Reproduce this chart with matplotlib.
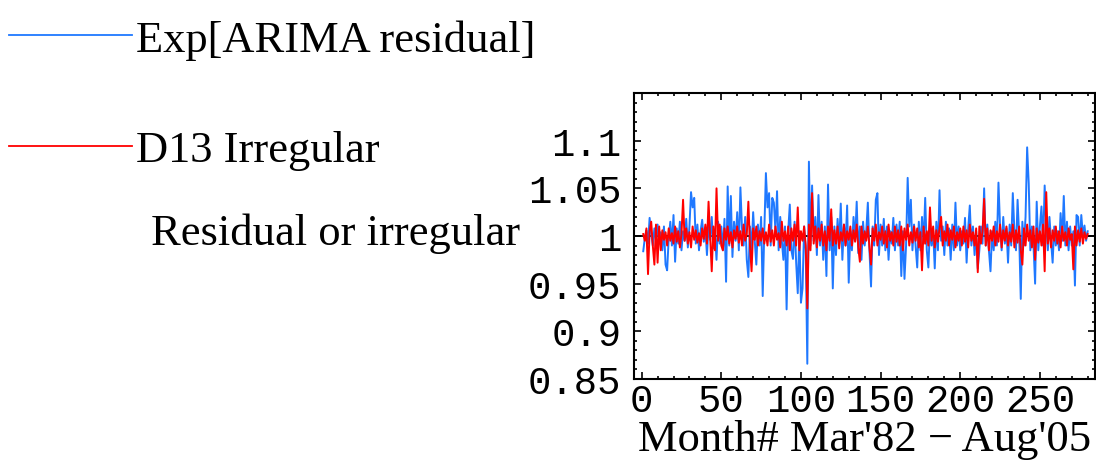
import matplotlib
matplotlib.use("Agg")
import matplotlib.pyplot as plt
from matplotlib.ticker import MultipleLocator
from matplotlib.lines import Line2D

months = list(range(1, 281))

arima_residual = [
    0.984, 0.998, 1.006, 0.992, 1.019, 1.002, 0.990, 1.008, 0.996, 1.012,
    0.994, 1.004, 0.985, 1.010, 0.970, 0.964, 0.998, 1.015, 0.990, 1.022,
    0.973, 1.008, 0.992, 1.015, 0.985, 1.005, 0.995, 1.018, 0.988, 1.010,
    1.046, 1.030, 1.040, 0.992, 1.012, 0.985, 1.005, 1.017, 0.994, 1.008,
    0.980, 1.012, 0.996, 1.020, 0.987, 1.003, 0.975, 1.015, 0.992, 1.010,
    0.985, 1.018, 0.952, 1.052, 0.990, 1.042, 0.978, 1.015, 0.995, 1.025,
    0.985, 1.051, 1.008, 0.990, 1.020, 0.975, 0.957, 1.010, 0.985, 1.025,
    0.995, 0.970, 1.012, 0.990, 1.020, 0.937, 1.005, 1.066, 1.030, 1.045,
    0.990, 1.040, 1.035, 1.005, 1.047, 0.985, 1.020, 0.995, 0.975, 1.010,
    0.923, 1.005, 1.033, 0.985, 0.976, 1.015, 0.972, 0.940, 1.005, 0.930,
    0.945, 1.010, 0.985, 0.866, 1.078, 0.990, 1.053, 0.995, 1.020, 0.980,
    1.043, 0.990, 1.015, 0.975, 1.010, 0.958, 1.054, 0.985, 1.020, 0.945,
    1.010, 0.980, 1.018, 0.992, 1.034, 0.975, 1.012, 0.990, 1.032, 0.951,
    1.005, 0.985, 1.020, 0.995, 1.036, 0.982, 1.010, 0.975, 1.015, 0.990,
    1.005, 1.035, 0.985, 0.947, 1.010, 0.990, 1.038, 1.045, 0.980, 1.012,
    0.990, 1.018, 0.985, 1.010, 0.975, 1.005, 0.992, 1.019, 0.985, 1.012,
    0.990, 1.015, 0.958, 1.005, 0.955, 0.990, 1.061, 1.010, 1.038, 0.985,
    1.012, 0.990, 0.967, 1.015, 0.985, 1.020, 0.992, 1.040, 0.985, 0.967,
    1.010, 0.990, 1.005, 0.966, 1.015, 0.985, 1.048, 0.995, 1.010, 0.980,
    1.015, 0.990, 1.008, 0.975, 1.012, 0.985, 1.035, 0.990, 1.010, 0.985,
    1.005, 0.992, 1.019, 0.972, 1.008, 1.032, 0.990, 1.010, 0.980, 1.005,
    0.966, 0.985, 1.010, 0.992, 1.050, 0.990, 1.012, 0.985, 0.963, 1.005,
    0.985, 1.015, 0.990, 1.056, 1.010, 0.985, 1.020, 0.992, 1.008, 0.972,
    1.012, 0.990, 1.045, 1.005, 0.985, 1.038, 1.000, 0.934, 1.015, 0.990,
    1.020, 1.093, 1.055, 0.985, 1.010, 0.990, 0.950, 1.036, 0.985, 1.010,
    1.031, 0.990, 1.053, 1.012, 0.985, 1.020, 0.995, 0.972, 1.010, 0.990,
    1.005, 0.985, 1.024, 0.995, 1.042, 0.990, 1.015, 0.985, 1.010, 0.990,
    1.005, 0.948, 1.022, 1.020, 0.990, 1.022, 1.000, 1.011, 0.995, 1.005,
]

d13_irregular = [
    1.002, 0.995, 1.008, 0.960, 1.005, 1.015, 0.990, 0.970, 1.012, 0.972,
    1.010, 0.985, 1.006, 0.996, 1.004, 0.990, 1.008, 0.995, 1.003, 0.992,
    1.010, 0.994, 1.005, 0.988, 1.002, 1.038, 0.995, 1.008, 0.992, 1.004,
    0.988, 1.010, 0.996, 1.006, 0.993, 1.003, 0.990, 1.008, 0.997, 1.012,
    0.992, 1.036, 1.000, 0.963, 1.010, 0.985, 1.050, 0.995, 1.012, 0.990,
    0.985, 1.008, 0.996, 1.010, 0.992, 1.004, 0.988, 1.006, 0.997, 1.010,
    0.993, 1.005, 0.990, 1.012, 0.995, 1.002, 1.036, 0.990, 0.963, 1.008,
    0.996, 1.010, 0.990, 1.005, 0.995, 1.008, 0.992, 1.004, 0.990, 1.012,
    0.994, 1.006, 0.990, 1.010, 0.996, 1.003, 0.988, 1.015, 0.995, 1.005,
    0.990, 1.010, 0.985, 1.008, 0.995, 1.012, 0.990, 1.030, 0.985, 1.005,
    0.995, 1.010, 0.990, 0.924, 1.012, 0.985, 1.045, 0.992, 1.010, 0.988,
    1.008, 0.995, 1.012, 0.990, 1.005, 0.985, 1.010, 0.995, 1.028, 0.990,
    1.006, 0.992, 1.010, 0.987, 1.004, 0.995, 1.012, 0.990, 1.005, 0.996,
    1.010, 0.990, 1.006, 0.994, 1.012, 0.988, 0.973, 1.010, 0.992, 1.005,
    0.995, 1.010, 0.988, 0.970, 1.008, 0.995, 1.012, 0.990, 1.004, 0.996,
    1.010, 0.992, 1.005, 0.988, 1.012, 0.995, 1.004, 0.990, 1.010, 0.994,
    1.006, 0.990, 1.010, 0.985, 1.008, 0.996, 1.012, 0.990, 1.004, 0.993,
    1.010, 0.995, 1.008, 0.988, 1.004, 0.964, 1.010, 0.992, 1.005, 0.990,
    1.030, 0.995, 1.010, 0.988, 1.006, 0.994, 1.008, 1.020, 0.990, 1.005,
    0.995, 1.012, 0.990, 1.006, 0.996, 1.010, 0.988, 1.004, 0.995, 1.008,
    0.990, 1.010, 0.994, 1.006, 0.988, 1.012, 0.995, 1.004, 0.990, 1.008,
    0.962, 1.010, 0.992, 1.005, 1.039, 0.990, 1.008, 0.985, 1.006, 0.995,
    1.010, 0.990, 1.005, 0.994, 1.012, 0.988, 1.006, 0.995, 1.010, 0.990,
    1.004, 0.994, 1.012, 0.988, 1.006, 0.993, 1.010, 0.985, 0.970, 1.008,
    0.990, 1.012, 0.995, 1.006, 0.988, 1.010, 0.975, 1.008, 0.993, 1.005,
    0.990, 1.012, 0.963, 1.046, 0.992, 1.008, 0.988, 1.006, 0.995, 1.010,
    0.992, 1.005, 0.988, 1.010, 0.995, 1.004, 0.990, 1.008, 0.996, 1.002,
    0.965, 1.010, 0.990, 1.006, 0.994, 1.008, 0.992, 1.004, 0.997, 1.002,
]

series_labels = ["Exp[ARIMA residual]", "D13 Irregular"]
x_ticks = [0, 50, 100, 150, 200, 250]
y_ticks = [0.85, 0.9, 0.95, 1.0, 1.05, 1.1]
y_tick_labels = ["0.85", "0.9", "0.95", "1", "1.05", "1.1"]
x_label = "Month# Mar'82 \u2212 Aug'05"
y_label = "Residual or irregular"

BLUE = "#1f78ff"
RED = "#ff0000"
SERIF = ["Liberation Serif", "DejaVu Serif"]
MONO = ["Liberation Mono", "DejaVu Sans Mono"]

fig = plt.figure(figsize=(10.96, 4.64), dpi=100)
ax = fig.add_axes([634 / 1096, 1 - 380 / 464, 461 / 1096, 286 / 464])

ax.axhline(1.0, color="black", lw=1.3, zorder=1)
ax.plot(months, arima_residual, color=BLUE, lw=1.4, zorder=2)
ax.plot(months, d13_irregular, color=RED, lw=1.4, zorder=3)

ax.set_xlim(-4.8, 284.6)
ax.set_ylim(0.85, 1.15)
ax.set_xticks(x_ticks)
ax.set_yticks(y_ticks)
ax.set_yticklabels(y_tick_labels)
ax.xaxis.set_minor_locator(MultipleLocator(10))
ax.yaxis.set_minor_locator(MultipleLocator(0.01))
ax.tick_params(which="both", direction="in", top=True, right=True, width=1.2, color="black")
ax.tick_params(which="major", length=5, labelsize=28)
ax.tick_params(axis="y", which="major", pad=9)
ax.tick_params(axis="x", which="major", pad=3)
ax.tick_params(which="minor", length=2.5)
for lab in ax.get_xticklabels() + ax.get_yticklabels():
    lab.set_family(MONO)
for sp in ax.spines.values():
    sp.set_linewidth(1.5)

ax.set_xlabel(x_label, fontsize=32, family=SERIF)
ax.xaxis.set_label_coords(0.5, -0.14)
ax.set_ylabel(y_label, fontsize=32, family=SERIF, rotation=0, ha="right", va="center")
ax.yaxis.set_label_coords(-0.247, 0.51)

handles = [Line2D([], [], color=BLUE, lw=1.3), Line2D([], [], color=RED, lw=1.3)]
fig.legend(handles, series_labels, loc="upper left", bbox_to_anchor=(0.0, 0.976),
           frameon=False, prop={"family": SERIF, "size": 32},
           handlelength=2.77, handletextpad=0.09, labelspacing=1.59,
           borderpad=0.0, borderaxespad=0.2)

fig.savefig("out.png", dpi=100)
